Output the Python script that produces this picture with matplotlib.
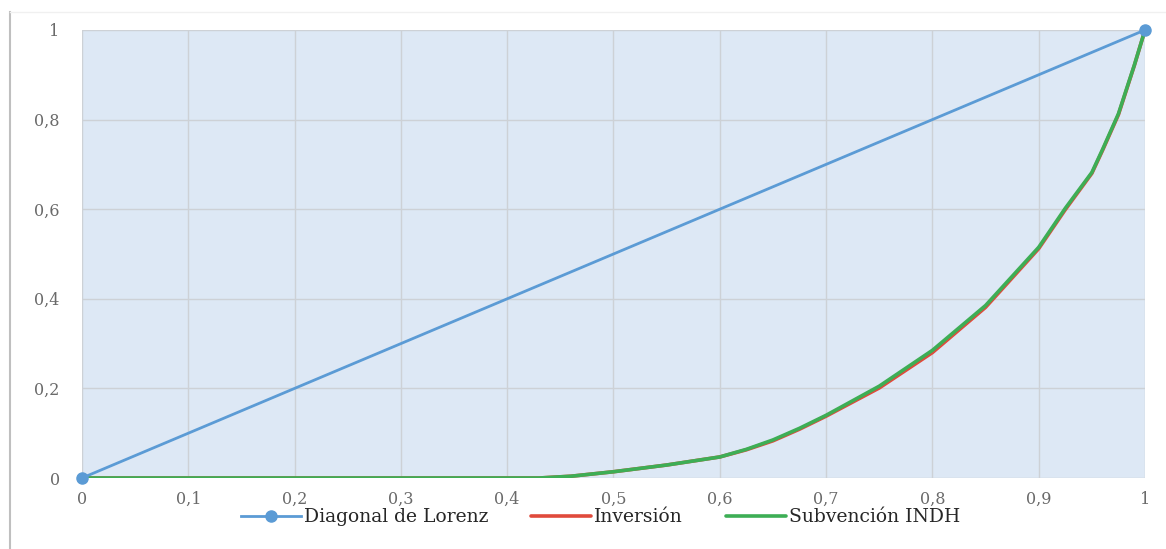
import matplotlib
matplotlib.use('Agg')
import matplotlib.pyplot as plt
from matplotlib.lines import Line2D

plt.rcParams['font.family'] = ['DejaVu Serif', 'Liberation Serif']

# Lorenz diagonal (line of equality)
diag_x = [0, 1]
diag_y = [0, 1]

# Concentration curves
curve_x = [0, 0.1, 0.2, 0.3, 0.4, 0.43, 0.46, 0.5, 0.55, 0.6, 0.625, 0.65,
           0.675, 0.7, 0.75, 0.8, 0.85, 0.9, 0.925, 0.95, 0.96, 0.975,
           0.99, 1.0]
inversion = [0, 0, 0, 0, 0, 0, 0.004, 0.014, 0.029, 0.047, 0.063, 0.083,
             0.109, 0.138, 0.201, 0.280, 0.381, 0.512, 0.599, 0.680, 0.731,
             0.811, 0.921, 1.0]
subvencion = [0, 0, 0, 0, 0, 0, 0.004, 0.014, 0.029, 0.047, 0.064, 0.085,
              0.111, 0.140, 0.205, 0.285, 0.385, 0.515, 0.602, 0.682, 0.733,
              0.813, 0.922, 1.0]

x_ticks = [0, 0.1, 0.2, 0.3, 0.4, 0.5, 0.6, 0.7, 0.8, 0.9, 1]
y_ticks = [0, 0.2, 0.4, 0.6, 0.8, 1]

blue = '#5b9bd5'
red = '#e04a3c'
green = '#3dae55'


def comma(v):
    return ('%g' % v).replace('.', ',')


fig = plt.figure(figsize=(11.66, 5.49), dpi=100)
ax = fig.add_axes([0.0703, 0.1293, 0.9117, 0.8161])
ax.set_facecolor('#dde8f5')

ax.plot(diag_x, diag_y, color=blue, linewidth=2, marker='o', markersize=8,
        zorder=6, clip_on=False, label='Diagonal de Lorenz')
ax.plot(curve_x, inversion, color=red, linewidth=2.6, zorder=4,
        solid_joinstyle='round', solid_capstyle='round', label='Inversión')
ax.plot(curve_x, subvencion, color=green, linewidth=2.6, zorder=5,
        solid_joinstyle='round', solid_capstyle='round', label='Subvención INDH')

ax.set_xlim(0, 1)
ax.set_ylim(0, 1)
ax.set_xticks(x_ticks)
ax.set_yticks(y_ticks)
ax.set_xticklabels([comma(v) for v in x_ticks])
ax.set_yticklabels([comma(v) for v in y_ticks])
ax.tick_params(length=0, labelsize=11.5, labelcolor='#6a6a6a')
ax.tick_params(axis='x', pad=9)
ax.tick_params(axis='y', pad=16)

ax.grid(True, color='#cdd1d6', linewidth=1)
ax.set_axisbelow(True)
for sp in ax.spines.values():
    sp.set_visible(False)

leg = fig.legend(loc='center', bbox_to_anchor=(0.515, 0.058), ncol=3,
                 frameon=False, fontsize=13.5, handlelength=3.2,
                 columnspacing=2.3, handletextpad=0.15)
for t in leg.get_texts():
    t.set_color('#262626')

# Outer frame edges
fig.add_artist(Line2D([10 / 1166, 10 / 1166], [0, 1 - 12 / 549],
                      transform=fig.transFigure, color='#bfbfbf', linewidth=1.5))
fig.add_artist(Line2D([10 / 1166, 1], [1 - 12 / 549, 1 - 12 / 549],
                      transform=fig.transFigure, color='#f0f0f0', linewidth=1))

fig.savefig('out.png', dpi=100)
